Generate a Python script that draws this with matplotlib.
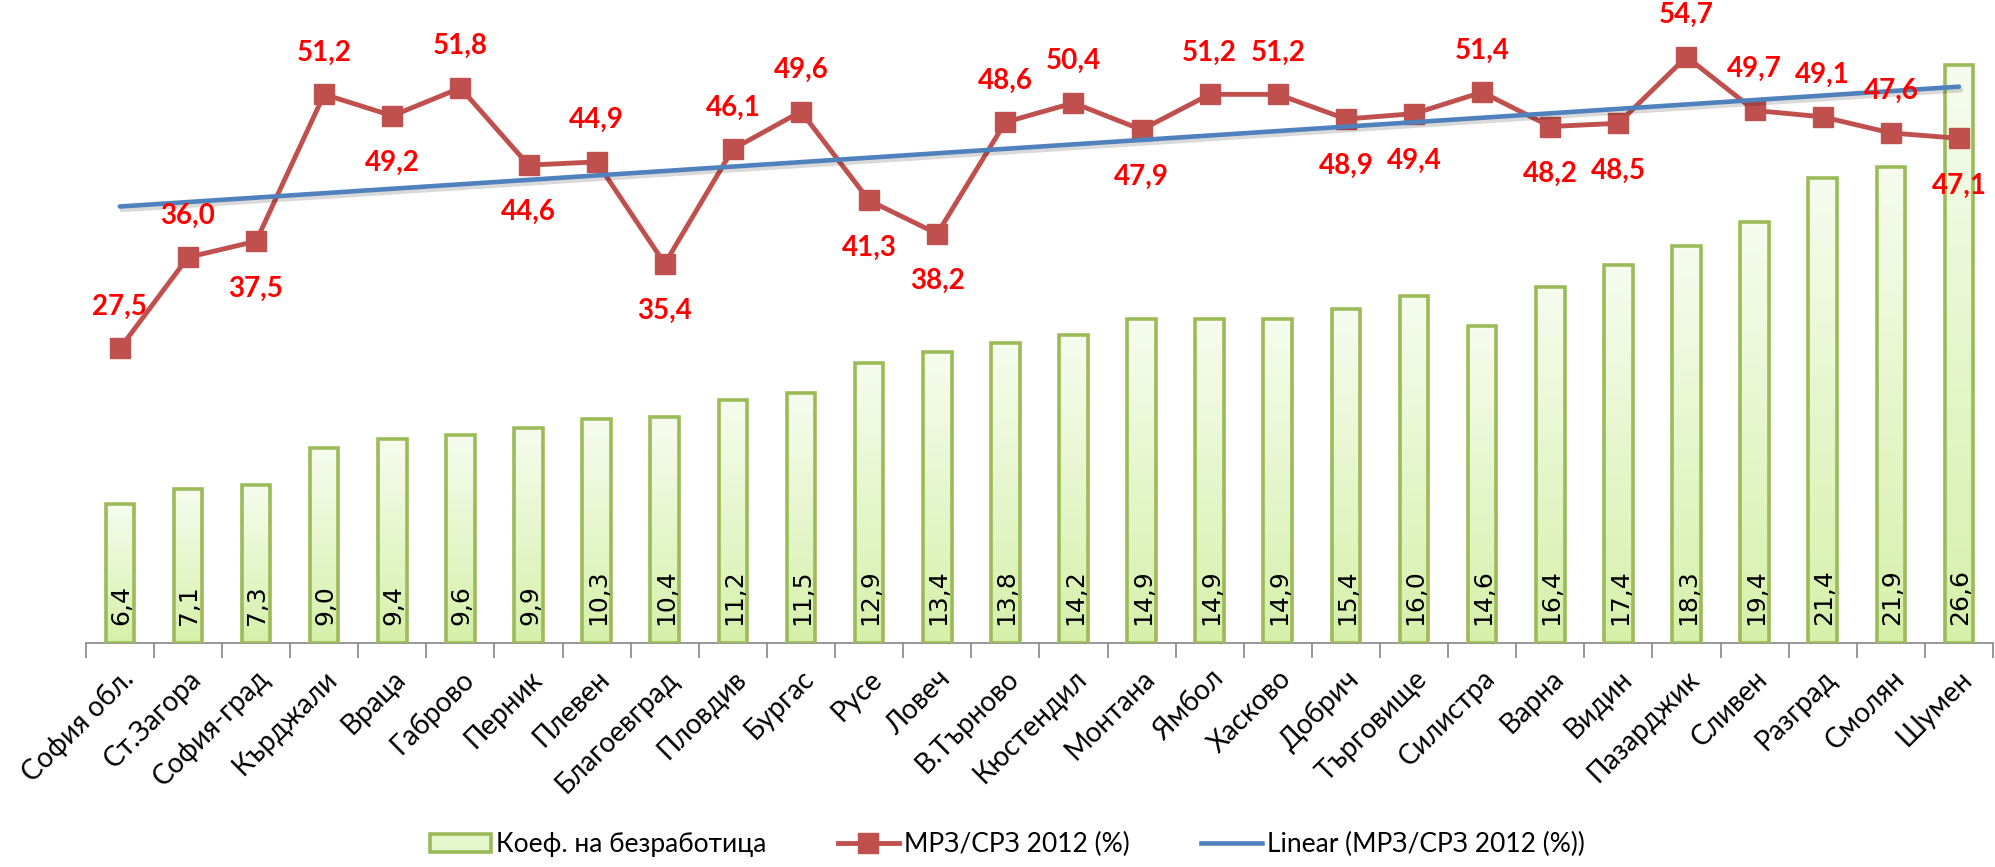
import numpy as np
import matplotlib
matplotlib.use('Agg')
import matplotlib.pyplot as plt
from matplotlib.colors import LinearSegmentedColormap
from matplotlib.lines import Line2D
from matplotlib.patches import Patch
import matplotlib.patheffects as pe

# --- Data ---
regions = ['София обл.', 'Ст.Загора', 'София-град', 'Кърджали', 'Враца', 'Габрово',
           'Перник', 'Плевен', 'Благоевград', 'Пловдив', 'Бургас', 'Русе', 'Ловеч',
           'В.Търново', 'Кюстендил', 'Монтана', 'Ямбол', 'Хасково', 'Добрич',
           'Търговище', 'Силистра', 'Варна', 'Видин', 'Пазарджик', 'Сливен',
           'Разград', 'Смолян', 'Шумен']
unemployment = [6.4, 7.1, 7.3, 9.0, 9.4, 9.6, 9.9, 10.3, 10.4, 11.2, 11.5, 12.9, 13.4,
                13.8, 14.2, 14.9, 14.9, 14.9, 15.4, 16.0, 14.6, 16.4, 17.4, 18.3, 19.4,
                21.4, 21.9, 26.6]
wage_ratio = [27.5, 36.0, 37.5, 51.2, 49.2, 51.8, 44.6, 44.9, 35.4, 46.1, 49.6, 41.3,
              38.2, 48.6, 50.4, 47.9, 51.2, 51.2, 48.9, 49.4, 51.4, 48.2, 48.5, 54.7,
              49.7, 49.1, 47.6, 47.1]
# 1 = label above the marker, -1 = below
label_side = [1, 1, -1, 1, -1, 1, -1, 1, -1, 1, 1, -1, -1, 1, 1, -1, 1, 1, -1, -1,
              1, -1, -1, 1, 1, 1, 1, -1]

BAR_EDGE = '#9bbb59'
LINE_RED = '#c0504d'
TREND_BLUE = '#4f81bd'
SANS = ['Lato', 'DejaVu Sans']
fmt = lambda v: f'{v:.1f}'.replace('.', ',')

# --- Figure ---
fig = plt.figure(figsize=(19.95, 8.67), dpi=100)
ax = fig.add_axes([0.043, 0.258, 0.956, 0.742])
ax2 = ax.twinx()

x = np.arange(len(regions))
width = 0.42

# bars with a vertical light-green gradient
grad_cmap = LinearSegmentedColormap.from_list('g', ['#d6f0aa', '#f6fcee'])
gradient = np.linspace(0, 1, 256).reshape(-1, 1)
bars = ax.bar(x, unemployment, width=width, facecolor='none', edgecolor=BAR_EDGE,
              linewidth=2.6, zorder=3)
for b in bars:
    x0, y0 = b.get_x(), b.get_y()
    img = ax.imshow(gradient, extent=[x0, x0 + b.get_width(), y0, y0 + b.get_height()],
                    origin='lower', aspect='auto', cmap=grad_cmap, zorder=2)
    img.set_clip_path(b)

for xi, v in zip(x, unemployment):
    ax.annotate(fmt(v), (xi, 0), xytext=(1, 13), textcoords='offset points',
                rotation=90, ha='center', va='bottom', fontsize=18, color='black',
                family='DejaVu Sans', zorder=5)

ax.set_xlim(-0.5, len(regions) - 0.5)
ax.set_ylim(0, 29.6)

# --- Line + trend on secondary axis ---
ax2.plot(x, wage_ratio, color=LINE_RED, linewidth=3.5, marker='s', markersize=15,
         zorder=4)
coef = np.polyfit(x, wage_ratio, 1)
ax2.plot(x, np.polyval(coef, x), color=TREND_BLUE, linewidth=3.3, zorder=5,
         solid_capstyle='round',
         path_effects=[pe.SimpleLineShadow(offset=(1.5, -2.5), alpha=0.15), pe.Normal()])
ax2.set_ylim(0, 60)

for xi, v, side in zip(x, wage_ratio, label_side):
    dy = 30 if side > 0 else -34
    ax2.annotate(fmt(v), (xi, v), xytext=(0, dy), textcoords='offset points',
                 ha='center', va='center', fontsize=20, fontweight='bold',
                 color='#ff0000', family=SANS, zorder=6)

# --- Axes styling ---
for a in (ax, ax2):
    for s in ('top', 'left', 'right'):
        a.spines[s].set_visible(False)
ax2.spines['bottom'].set_visible(False)
ax2.set_yticks([])
ax.set_yticks([])
ax.spines['bottom'].set_color('#868686')
ax.spines['bottom'].set_linewidth(1.2)

ax.set_xticks(x)
ax.set_xticklabels(regions, rotation=45, ha='right', rotation_mode='anchor',
                   fontsize=20, family=SANS)
ax.tick_params(axis='x', which='major', length=0, pad=16)
ax.set_xticks(np.arange(len(regions) + 1) - 0.5, minor=True)
ax.tick_params(axis='x', which='minor', length=11, width=1.2, color='#868686')

# --- Legend ---
handles = [
    Patch(facecolor='#e6f6cc', edgecolor=BAR_EDGE, linewidth=2.6),
    Line2D([0], [0], color=LINE_RED, linewidth=3.5, marker='s', markersize=15),
    Line2D([0], [0], color=TREND_BLUE, linewidth=3.3),
]
labels = ['Коеф. на безработица', 'МРЗ/СРЗ 2012 (%)', 'Linear (МРЗ/СРЗ 2012 (%))']
fig.legend(handles, labels, loc='center', bbox_to_anchor=(0.505, 0.026), ncol=3,
           frameon=False, prop={'family': SANS, 'size': 19}, handlelength=2.3,
           handletextpad=0.2, columnspacing=2.7)

fig.savefig('out.png', dpi=100)
